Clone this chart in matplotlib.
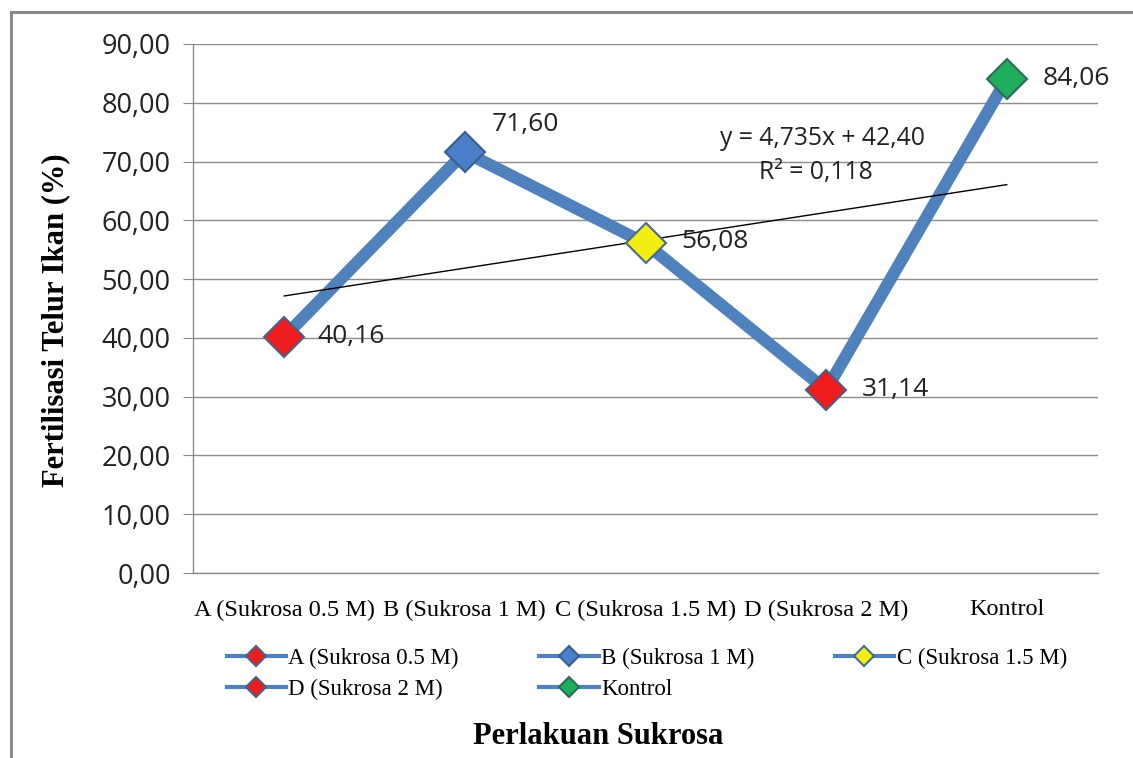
import numpy as np
import matplotlib
matplotlib.use("Agg")
import matplotlib.pyplot as plt
from matplotlib.ticker import FuncFormatter
from matplotlib.patches import Rectangle

CATEGORIES = ["A (Sukrosa 0.5 M)", "B (Sukrosa 1 M)", "C (Sukrosa 1.5 M)",
              "D (Sukrosa 2 M)", "Kontrol"]
FERTILISASI = [40.16, 71.60, 56.08, 31.14, 84.06]
TREND_SLOPE, TREND_INTERCEPT = 4.735, 42.40
TREND_TEXT = ["y = 4,735x + 42,40", "R² = 0,118"]

LINE_C = "#4F81BD"
FILLS = ["#EE1C1C", "#4A7FC9", "#F2EE12", "#EE1C1C", "#1EAE5C"]
EDGES = ["#4A5F86", "#3A5F92", "#4A6A8E", "#4A5F86", "#2E6B58"]
LABEL_OFF = [(24, 0), (19, 20), (26, 1), (26, 0), (26, 0)]  # points
GRID_C = "#8C8C8C"

SANS = ["Open Sans", "DejaVu Sans"]
SERIF = ["Liberation Serif", "DejaVu Serif"]

fig = plt.figure(figsize=(11.33, 7.58), dpi=100)
ax = fig.add_axes([193 / 1133, 1 - 573 / 758, 905 / 1133, 529 / 758])

x = np.arange(len(CATEGORIES))
ax.plot(x, FERTILISASI, "-", color=LINE_C, lw=8.8, solid_capstyle="butt", zorder=3)

handles = []
for i, (name, v) in enumerate(zip(CATEGORIES, FERTILISASI)):
    h, = ax.plot([x[i]], [v], marker="D", ms=20.5, mfc=FILLS[i], mec=EDGES[i], mew=1.5,
                 color=LINE_C, lw=3, label=name, zorder=5)
    handles.append(h)
    dx, dy = LABEL_OFF[i]
    ax.annotate(f"{v:.2f}".replace(".", ","), (x[i], v), xytext=(dx, dy),
                textcoords="offset points", ha="left", va="center",
                fontsize=19, family=SANS, color="#222222", zorder=6)

# linear trendline (x = 1..5 as in Excel)
tx = np.array([0, len(CATEGORIES) - 1])
ax.plot(tx, TREND_SLOPE * (tx + 1) + TREND_INTERCEPT, color="black", lw=1.0, zorder=4)
ax.text(2.98, 74.0, TREND_TEXT[0], ha="center", va="center", fontsize=17.8, family=SANS,
        color="#222222")
ax.text(2.945, 68.2, TREND_TEXT[1], ha="center", va="center", fontsize=17.8, family=SANS,
        color="#222222")

ax.set_xlim(-0.505, len(CATEGORIES) - 0.495)
ax.set_ylim(0, 90)
ax.set_yticks(np.arange(0, 91, 10))
ax.yaxis.set_major_formatter(FuncFormatter(lambda v, p: f"{v:.2f}".replace(".", ",")))
ax.set_xticks(x)
ax.set_xticklabels(CATEGORIES, family=SERIF, fontsize=17.5)
for lab in ax.get_yticklabels():
    lab.set_family(SANS)
    lab.set_fontsize(19.5)
    lab.set_color("#222222")
ax.tick_params(axis="y", length=7, color=GRID_C, pad=9)
ax.tick_params(axis="x", length=0, pad=19)
ax.grid(axis="y", color=GRID_C, lw=1.0)
ax.set_axisbelow(True)
for s in ["top", "right"]:
    ax.spines[s].set_visible(False)
for s in ["left", "bottom"]:
    ax.spines[s].set_color(GRID_C)
    ax.spines[s].set_linewidth(1.0)

fig.text(56 / 1133, 1 - 320 / 758, "Fertilisasi Telur Ikan (%)", family=SERIF,
         fontsize=22, fontweight="bold", rotation=90, ha="center", va="center")
fig.text(598 / 1133, 1 - 736 / 758, "Perlakuan Sukrosa", family=SERIF, fontsize=22,
         fontweight="bold", ha="center", va="center")

order = [0, 3, 1, 4, 2]
leg = fig.legend([handles[i] for i in order], [CATEGORIES[i] for i in order],
                 ncol=3, loc="upper left", bbox_to_anchor=(206 / 1133, 1 - 627 / 758),
                 frameon=False, prop={"family": SERIF, "size": 16.5}, markerscale=0.5,
                 handlelength=2.6, handletextpad=0.1, columnspacing=3.5, labelspacing=0.45)

fig.patches.append(Rectangle((11 / 1133, -0.1), 1.2, 1.1 - 12 / 758,
                             transform=fig.transFigure, fill=False, ec="#8A8A8A", lw=2.2))

fig.savefig("out.png", dpi=100)
